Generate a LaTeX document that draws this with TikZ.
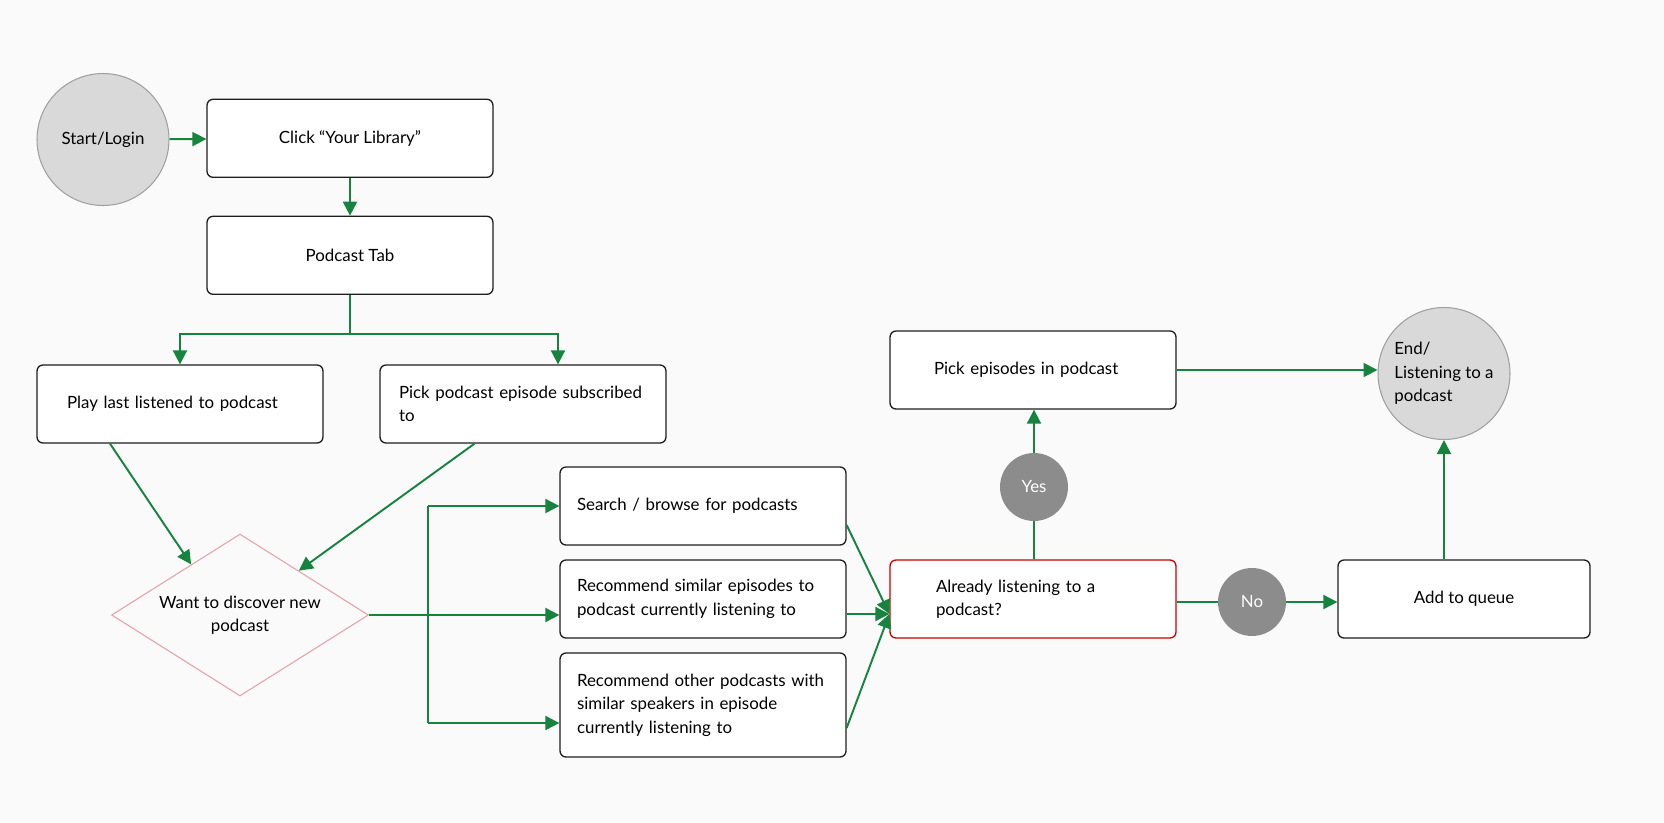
\documentclass[tikz,border=0pt]{standalone}
\usepackage{fontspec}
\setmainfont{Lato}
\usetikzlibrary{shapes.geometric,arrows.meta}
\definecolor{flowgreen}{RGB}{22,132,62}
\definecolor{boxline}{RGB}{30,30,30}
\definecolor{alertred}{RGB}{204,0,0}
\definecolor{diamondpink}{RGB}{232,160,170}
\definecolor{endfill}{RGB}{217,217,217}
\definecolor{endline}{RGB}{160,160,160}
\definecolor{answerfill}{RGB}{140,140,140}
\definecolor{paper}{RGB}{250,250,250}
\hyphenpenalty=10000

\begin{document}
\begin{tikzpicture}[x=0.02cm,y=-0.02cm,
    every node/.style={font=\fontsize{9.6}{13.3}\selectfont},
    step_box/.style={rectangle,draw=boxline,line width=0.75pt,rounded corners=0.12cm,fill=white,minimum width=5.72cm,minimum height=1.56cm,inner sep=0pt,align=left},
    term_node/.style={circle,draw=endline,line width=0.6pt,fill=endfill,minimum size=2.64cm,inner sep=0pt,align=left},
    answer_node/.style={circle,fill=answerfill,text=white,minimum size=1.36cm,inner sep=0pt},
    flow/.style={draw=flowgreen,line width=1.1pt},
    flow_arrow/.style={flow,-{Triangle[length=0.28cm,width=0.28cm]}}]

    \fill[paper] (0,0) rectangle (1664,822);

    \node[term_node,align=center] (1) at (103,139.5) {Start/Login};
    \node[step_box,align=center] (2) at (350,138.3) {Click “Your Library”};
    \node[step_box,align=center] (3) at (350,255.3) {Podcast Tab};
    \node[step_box,text width=4.52cm] (4) at (180,404) {Play last listened to podcast};
    \node[step_box,text width=4.96cm] (5) at (523,404) {Pick podcast episode subscribed\\to};
    \node[diamond,draw=diamondpink,line width=0.6pt,aspect=1.59,minimum width=5.14cm,minimum height=3.24cm,inner sep=0pt,align=center] (6) at (240,615) {Want to discover new\\podcast};
    \node[step_box,text width=5.04cm] (7) at (703,506) {Search / browse for podcasts};
    \node[step_box,text width=5.04cm] (8) at (703,599) {Recommend similar episodes to\\podcast currently listening to};
    \node[step_box,text width=5.04cm,minimum height=2.08cm] (9) at (703,705) {Recommend other podcasts with\\similar speakers in episode\\currently listening to};
    \node[step_box,draw=alertred,text width=3.88cm] (10) at (1033,599) {Already listening to a\\podcast?};
    \node[step_box,text width=3.96cm] (11) at (1033,370) {Pick episodes in podcast};
    \node[answer_node] (12) at (1034,487) {Yes};
    \node[answer_node] (13) at (1252,602) {No};
    \node[step_box,align=center,minimum width=5.04cm] (14) at (1464,599) {Add to queue};
    \node[term_node] (15) at (1444,373.5) {End/\\Listening to a\\podcast};

    \coordinate (split) at (350,334);
    \coordinate (fork) at (428,615);
    \coordinate (merge) at ([yshift=-0.3cm]10.west);

    \draw[flow_arrow] (1) -- (2);
    \draw[flow_arrow] (2) -- (3);
    \draw[flow] (3.south) -- (3.south |- split);
    \draw[flow_arrow] (split) -| (4.north);
    \draw[flow_arrow] (split) -| ([xshift=0.7cm]5.north);
    \draw[flow_arrow] ([xshift=-1.4cm]4.south) -- (6.134);
    \draw[flow_arrow] ([xshift=-0.97cm]5.south) -- (6.37);
    \draw[flow_arrow] (6.east) -- (6.east -| 8.west);
    \draw[flow_arrow] (fork |- 7.west) -- (7.west);
    \draw[flow] (fork |- 7.west) -- (fork |- 9.west) -- ++(0,18);
    \draw[flow_arrow] ([yshift=-0.36cm]fork |- 9.west) -- ([yshift=-0.36cm]9.west);
    \draw[flow_arrow] ([yshift=-0.38cm]7.east) -- (merge);
    \draw[flow_arrow] (merge -| 8.east) -- (merge);
    \draw[flow_arrow] ([yshift=-0.46cm]9.east) -- (merge);
    \draw[flow] (12 |- 10.north) -- (12);
    \draw[flow_arrow] (12) -- (12 |- 11.south);
    \draw[flow] (10.east |- 13) -- (13);
    \draw[flow_arrow] (13) -- (13 -| 14.west);
    \draw[flow_arrow] (11.east) -- (11.east -| 15.west);
    \draw[flow_arrow] (15.south |- 14.north) -- (15.south);
\end{tikzpicture}
\end{document}
